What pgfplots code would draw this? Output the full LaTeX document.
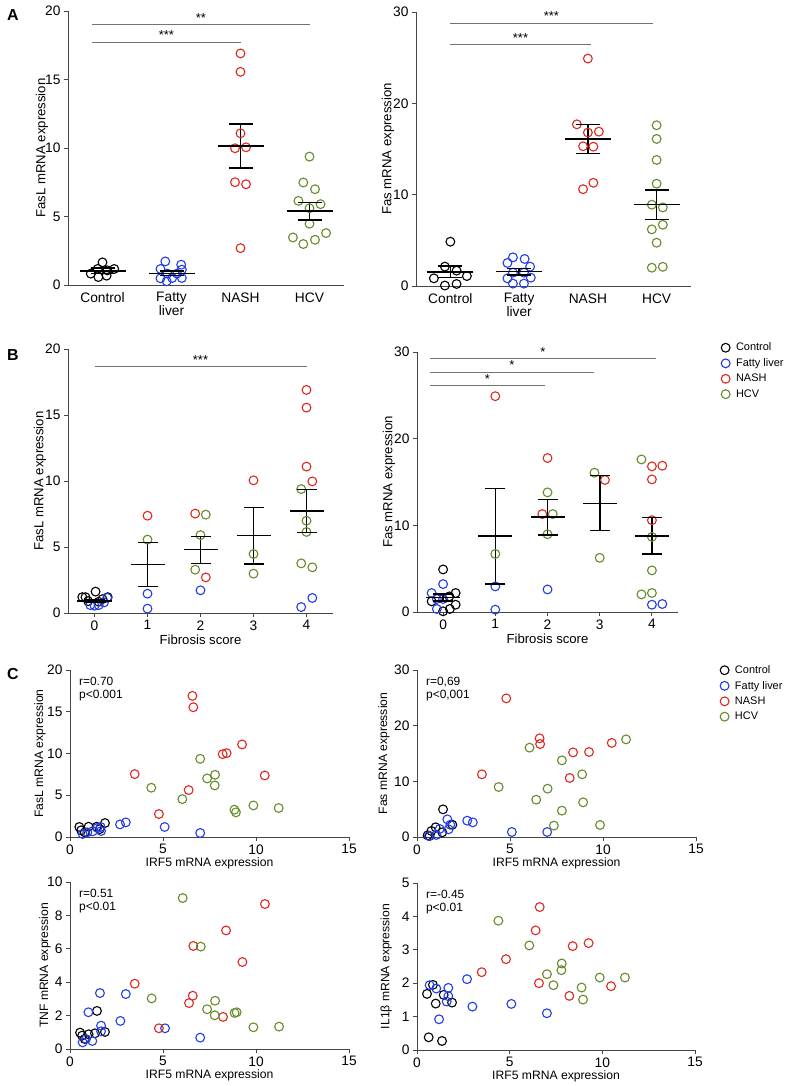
\documentclass[border=0pt]{standalone}
\usepackage{fontspec}
\setmainfont{Liberation Sans}
\usepackage{pgfplots}
\pgfplotsset{compat=1.18}
\definecolor{cblue}{RGB}{35,60,230}
\definecolor{cred}{RGB}{220,40,30}
\definecolor{cgreen}{RGB}{100,140,40}
\definecolor{axgray}{RGB}{70,70,70}
\tikzset{sig/.style={draw=black!55, line width=0.8bp}}
\pgfplotsset{
  prism/.style={scale only axis, anchor=south west,
    axis x line*=bottom, axis y line*=left,
    axis line style={line width=0.9bp, draw=axgray},
    every tick/.style={line width=0.9bp, axgray},
    tick align=outside, major tick length=4bp,
    tick label style={font=\fontsize{13.8}{14}\selectfont, black},
    /pgf/number format/assume math mode=true, clip=false,
    label style={font=\fontsize{13.2}{15}\selectfont}},
  clab/.style={label style={font=\fontsize{12.2}{14}\selectfont}},
  ylabx/.style={ylabel style={at={(axis description cs:#1,0.5)}, anchor=center}},
  xlaby/.style={xlabel style={at={(axis description cs:0.5,#1)}, anchor=center}},
  gC/.style={only marks, mark=o, black, mark size=4.4bp, mark options={line width=1.1bp}},
  gF/.style={only marks, mark=o, cblue, mark size=4.4bp, mark options={line width=1.1bp}},
  gN/.style={only marks, mark=o, cred, mark size=4.4bp, mark options={line width=1.1bp}},
  gH/.style={only marks, mark=o, cgreen, mark size=4.4bp, mark options={line width=1.1bp}},
  meanl/.style={only marks, mark=-, black, mark size=#1, mark options={line width=1.6bp}},
  semv/.style={black, line width=1.6bp, mark=none, unbounded coords=jump},
  legC/.style={legend style={draw=none, fill=none, inner sep=0pt, anchor=north west,
    font=\fontsize{11}{12}\selectfont, row sep=2.2bp, cells={anchor=west},
    /tikz/every odd column/.append style={column sep=4bp}}, legend cell align=left},
}
\newcommand{\sigt}[1]{node[midway, anchor=base, yshift=2bp, inner sep=0pt, font=\fontsize{13}{14}\selectfont, black]{#1}}
\begin{document}
\begin{tikzpicture}
\useasboundingbox (0,0) rectangle (786bp,1086bp);
\node[font=\bfseries\fontsize{16}{18}\selectfont] at (13bp,1071bp) {A};
\node[font=\bfseries\fontsize{16}{18}\selectfont] at (13bp,731bp) {B};
\node[font=\bfseries\fontsize{16}{18}\selectfont] at (13bp,412bp) {C};

% ---------- A left
\begin{axis}[prism, at={(68bp,801bp)}, width=276bp, height=274bp,
  xmin=-0.5, xmax=3.5, ymin=0, ymax=20, xtick={0,1,2,3},
  xticklabels={Control,{Fatty\\liver},NASH,HCV}, xticklabel style={align=center},
  xtick style={draw=none}, ytick={0,5,10,15,20},
  ylabel={FasL mRNA expression}, ylabx=-0.094]
\addplot[gC] coordinates {(0,1.65) (-0.17,0.83) (-0.06,0.58) (0.06,0.68) (-0.07,1.17) (0.17,1.17) (0.07,1.07)};
\addplot[gF] coordinates {(0.91,1.72) (0.84,1.17) (1.14,1.48) (1.15,1.12) (0.84,0.49) (0.93,0.27) (1.01,0.51) (1.15,0.51) (1.08,0.83) (0.94,0.83)};
\addplot[gN] coordinates {(2,16.9) (2,15.56) (2,11.07) (1.92,9.98) (2.08,10.05) (1.92,7.5) (2.08,7.35) (2,2.69)};
\addplot[gH] coordinates {(3,9.37) (2.91,7.48) (3.08,6.99) (2.84,6.14) (3.16,5.9) (3,5.6) (3,4.47) (2.76,3.47) (3.24,3.79) (2.91,2.99) (3.08,3.3)};
\addplot[meanl=23bp] coordinates {(0,1.02) (1,0.85) (2,10.15) (3,5.39)};
\addplot[meanl=12bp] coordinates {(0,0.85) (0,1.22) (1,0.7) (1,1.0) (2,8.52) (2,11.75) (3,4.76) (3,6.02)};
\addplot[semv] coordinates {(0,0.85) (0,1.22) (0,nan) (1,0.7) (1,1.0) (1,nan) (2,8.52) (2,11.75) (2,nan) (3,4.76) (3,6.02)};
\draw[sig] (axis cs:-0.15,19.05) -- (axis cs:3,19.05) \sigt{**};
\draw[sig] (axis cs:-0.15,17.74) -- (axis cs:2,17.74) \sigt{***};
\end{axis}

% ---------- A right
\begin{axis}[prism, at={(416bp,800bp)}, width=275bp, height=274bp,
  xmin=-0.5, xmax=3.5, ymin=0, ymax=30, xtick={0,1,2,3},
  xticklabels={Control,{Fatty\\liver},NASH,HCV}, xticklabel style={align=center},
  xtick style={draw=none}, ytick={0,10,20,30},
  ylabel={Fas mRNA expression}, ylabx=-0.102]
\addplot[gC] coordinates {(0,4.85) (-0.08,2.12) (0.09,1.68) (-0.24,0.84) (0.24,1.09) (-0.08,0.05) (0.09,0.22)};
\addplot[gF] coordinates {(0.91,3.14) (1.08,2.96) (0.83,2.52) (1.16,2.12) (0.91,1.46) (1.07,1.46) (0.83,0.84) (1.17,0.91) (0.91,0.26) (1.07,0.26)};
\addplot[gN] coordinates {(2,24.9) (1.84,17.7) (2,16.8) (2.16,16.9) (1.93,15.3) (2.08,15.25) (1.93,10.6) (2.08,11.3)};
\addplot[gH] coordinates {(3,17.6) (3,16.1) (3,13.8) (3,11.2) (2.93,8.9) (3.09,8.6) (2.93,6.2) (3.09,6.7) (3,4.74) (2.93,2.0) (3.09,2.1)};
\addplot[meanl=23bp] coordinates {(0,1.53) (1,1.57) (2,16.1) (3,8.94)};
\addplot[meanl=12bp] coordinates {(0,0.95) (0,2.19) (1,1.2) (1,1.93) (2,14.5) (2,17.7) (3,7.3) (3,10.5)};
\addplot[semv] coordinates {(0,0.95) (0,2.19) (0,nan) (1,1.2) (1,1.93) (1,nan) (2,14.5) (2,17.7) (2,nan) (3,7.3) (3,10.5)};
\draw[sig] (axis cs:0,28.8) -- (axis cs:2.94,28.8) \sigt{***};
\draw[sig] (axis cs:0,26.4) -- (axis cs:2.04,26.4) \sigt{***};
\end{axis}

% ---------- B left
\begin{axis}[prism, at={(68bp,473bp)}, width=265bp, height=264bp,
  xmin=-0.5, xmax=4.5, ymin=0, ymax=20, xtick={0,1,2,3,4}, ytick={0,5,10,15,20},
  ylabel={FasL mRNA expression}, ylabx=-0.106,
  xlabel={Fibrosis score}, xlaby=-0.102]
\addplot[gC] coordinates {(-0.23,1.2) (-0.17,1.2) (0.02,1.62) (0.25,1.2) (-0.12,0.9) (0.08,0.85) (0.15,1.05)};
\addplot[gF] coordinates {(-0.08,0.6) (0,0.55) (0.08,0.6) (0.18,0.8) (0.24,1.15) (1,1.46) (1,0.33) (2,1.72) (3.9,0.45) (4.11,1.14)};
\addplot[gN] coordinates {(1,7.37) (1.9,7.53) (2.1,2.7) (3,10.05) (4,16.9) (4,15.56) (4,11.09) (4.11,9.97)};
\addplot[gH] coordinates {(1,5.56) (2.1,7.45) (2,5.9) (1.9,3.28) (3,4.47) (3,2.98) (3.9,9.39) (4,6.99) (4,6.14) (3.9,3.76) (4.11,3.46)};
\addplot[meanl=17bp] coordinates {(0,0.9) (1,3.66) (2,4.8) (3,5.86) (4,7.73)};
\addplot[meanl=10bp] coordinates {(0,0.78) (0,1.02) (1,2.02) (1,5.35) (2,3.74) (2,5.8) (3,3.71) (3,8.0) (4,6.11) (4,9.37)};
\addplot[semv] coordinates {(0,0.78) (0,1.02) (0,nan) (1,2.02) (1,5.35) (1,nan) (2,3.74) (2,5.8) (2,nan) (3,3.71) (3,8.0) (3,nan) (4,6.11) (4,9.37)};
\draw[sig] (axis cs:0,18.7) -- (axis cs:4,18.7) \sigt{***};
\end{axis}

% ---------- B right
\begin{axis}[prism, legC, at={(417bp,474bp)}, width=261bp, height=260bp,
  xmin=-0.5, xmax=4.5, ymin=0, ymax=30, xtick={0,1,2,3,4}, ytick={0,10,20,30},
  ylabel={Fas mRNA expression}, ylabx=-0.107,
  xlabel={Fibrosis score}, xlaby=-0.104,
  legend style={at={(axis description cs:1.165,1.043)}}]
\addplot[gC] coordinates {(0,4.91) (0.24,2.19) (-0.22,1.23) (0.12,1.8) (0,0.08) (0.13,0.35) (0.24,0.84)};
\addlegendentry{Control}
\addplot[gF] coordinates {(0,3.22) (-0.22,2.19) (-0.12,1.5) (0,1.5) (-0.12,0.35) (1,2.95) (1,0.27) (2,2.6) (4,0.84) (4.2,0.92)};
\addlegendentry{Fatty liver}
\addplot[gN] coordinates {(1,24.9) (2,17.76) (1.9,11.3) (3.1,15.23) (4,16.8) (4.2,16.88) (4,15.3) (4,10.59)};
\addlegendentry{NASH}
\addplot[gH] coordinates {(1,6.7) (2,13.8) (2.1,11.3) (2,8.97) (2.9,16.07) (3,6.25) (3.8,17.6) (4,8.67) (4,4.8) (3.8,2.03) (4,2.19)};
\addlegendentry{HCV}
\addplot[meanl=17bp] coordinates {(0,1.69) (1,8.75) (2,10.93) (3,12.54) (4,8.78)};
\addplot[meanl=10bp] coordinates {(0,1.3) (0,2.07) (1,3.22) (1,14.27) (2,8.9) (2,13.0) (3,9.4) (3,15.73) (4,6.67) (4,10.9)};
\addplot[semv] coordinates {(0,1.3) (0,2.07) (0,nan) (1,3.22) (1,14.27) (1,nan) (2,8.9) (2,13.0) (2,nan) (3,9.4) (3,15.73) (3,nan) (4,6.67) (4,10.9)};
\draw[sig] (axis cs:-0.25,29.3) -- (axis cs:4.07,29.3) \sigt{*};
\draw[sig] (axis cs:-0.25,27.7) -- (axis cs:2.89,27.7) \sigt{*};
\draw[sig] (axis cs:-0.25,26.1) -- (axis cs:1.95,26.1) \sigt{*};
\end{axis}

% ---------- C top left
\begin{axis}[prism, clab, at={(70bp,249bp)}, width=279bp, height=167bp,
  xmin=0, xmax=15, ymin=0, ymax=20, xtick={0,5,10,15}, ytick={0,5,10,15,20},
  ylabel={FasL mRNA expression}, ylabx=-0.1075,
  xlabel={IRF5 mRNA expression}, xlaby=-0.156]
\addplot[gC] coordinates {(0.5,1.2) (0.6,0.8) (1.0,1.23) (1.43,1.23) (1.88,1.67) (0.8,0.55) (1.6,0.95)};
\addplot[gF] coordinates {(0.68,0.36) (0.93,0.56) (1.22,0.68) (1.47,1.08) (1.65,1.2) (1.67,0.72) (2.69,1.51) (3.0,1.75) (5.09,1.2) (7.0,0.48)};
\addplot[gN] coordinates {(3.48,7.53) (4.78,2.75) (6.38,5.62) (6.58,16.9) (6.63,15.54) (8.21,9.92) (8.42,10.04) (9.25,11.08) (10.47,7.37)};
\addplot[gH] coordinates {(4.37,5.9) (6.04,4.54) (7.0,9.36) (7.37,7.01) (7.8,7.45) (7.78,6.18) (8.84,3.27) (8.92,2.95) (9.86,3.78) (11.22,3.47)};
\node[anchor=north west, align=left, inner sep=0pt, font=\fontsize{12}{13.7}\selectfont] at (rel axis cs:0.032,0.96) {r=0.70\\p<0.001};
\end{axis}

% ---------- C top right
\begin{axis}[prism, clab, legC, at={(417bp,249bp)}, width=279bp, height=167bp,
  xmin=0, xmax=15, ymin=0, ymax=30, xtick={0,5,10,15}, ytick={0,10,20,30},
  ylabel={Fas mRNA expression}, ylabx=-0.118,
  xlabel={IRF5 mRNA expression}, xlaby=-0.156,
  legend style={at={(axis description cs:1.086,1.04)}}]
\addplot[gC] coordinates {(1.4,4.97) (1.0,1.74) (0.77,1.08) (0.57,0.3) (0.68,0.18) (1.36,0.84) (1.9,2.2)};
\addlegendentry{Control}
\addplot[gF] coordinates {(0.64,0.18) (1.04,0.36) (1.22,1.44) (1.63,3.17) (1.7,1.38) (1.79,2.2) (2.7,2.93) (3.0,2.63) (5.1,0.9) (7.0,0.9)};
\addlegendentry{Fatty liver}
\addplot[gN] coordinates {(4.8,24.9) (3.49,11.26) (6.59,17.72) (6.62,16.7) (8.39,15.2) (9.25,15.27) (10.47,16.9) (8.21,10.6)};
\addlegendentry{NASH}
\addplot[gH] coordinates {(4.39,8.98) (6.05,16.05) (6.41,6.7) (7.02,8.68) (7.79,13.77) (7.79,4.73) (7.36,2.04) (8.88,11.26) (8.93,6.23) (9.84,2.16) (11.24,17.54)};
\addlegendentry{HCV}
\node[anchor=north west, align=left, inner sep=0pt, font=\fontsize{12}{13.7}\selectfont] at (rel axis cs:0.032,0.96) {r=0,69\\p<0,001};
\end{axis}

% ---------- C bottom left
\begin{axis}[prism, clab, at={(70bp,37bp)}, width=279bp, height=167bp,
  xmin=0, xmax=15, ymin=0, ymax=10, xtick={0,5,10,15}, ytick={0,2,4,6,8,10},
  ylabel={TNF mRNA expression}, ylabx=-0.09,
  xlabel={IRF5 mRNA expression}, xlaby=-0.156]
\addplot[gC] coordinates {(0.54,0.98) (0.65,0.8) (1.0,0.88) (1.34,0.94) (1.45,2.28) (1.88,1.02) (0.79,0.6)};
\addplot[gF] coordinates {(0.68,0.4) (0.99,2.2) (1.2,0.48) (1.61,3.35) (1.67,1.4) (1.67,1.06) (2.71,1.68) (3.0,3.29) (5.11,1.24) (7.0,0.68) (0.86,0.6)};
\addplot[gN] coordinates {(3.48,3.91) (4.78,1.24) (6.4,2.75) (6.6,3.19) (6.63,6.17) (8.23,1.92) (8.39,7.1) (9.27,5.21) (10.48,8.68)};
\addplot[gH] coordinates {(4.39,3.03) (6.06,9.04) (7.03,6.13) (7.37,2.38) (7.8,2.89) (7.78,2.02) (8.85,2.16) (8.96,2.2) (9.86,1.3) (11.24,1.34)};
\node[anchor=north west, align=left, inner sep=0pt, font=\fontsize{12}{13.7}\selectfont] at (rel axis cs:0.032,0.96) {r=0.51\\p<0.01};
\end{axis}

% ---------- C bottom right
\begin{axis}[prism, clab, at={(417bp,36bp)}, width=278bp, height=167bp,
  xmin=0, xmax=15, ymin=0, ymax=5, xtick={0,5,10,15}, ytick={0,1,2,3,4,5},
  ylabel={IL1β mRNA expression}, ylabx=-0.111,
  xlabel={IRF5 mRNA expression}, xlaby=-0.156]
\addplot[gC] coordinates {(0.54,1.68) (0.63,0.38) (0.86,1.95) (1.01,1.39) (1.35,0.27) (1.44,1.65) (1.89,1.42)};
\addplot[gF] coordinates {(0.68,1.94) (1.04,1.84) (1.19,0.92) (1.69,1.86) (1.69,1.61) (1.6,1.45) (2.7,2.12) (2.99,1.3) (5.09,1.38) (7.01,1.1)};
\addplot[gN] coordinates {(3.49,2.33) (4.8,2.72) (6.4,3.58) (6.62,4.28) (6.58,2.0) (8.22,1.62) (8.4,3.11) (9.26,3.2) (10.47,1.91)};
\addplot[gH] coordinates {(4.39,3.87) (6.06,3.13) (7.01,2.27) (7.36,1.94) (7.81,2.59) (7.79,2.39) (8.88,1.87) (8.96,1.51) (9.86,2.17) (11.22,2.17)};
\node[anchor=north west, align=left, inner sep=0pt, font=\fontsize{12}{13.7}\selectfont] at (rel axis cs:0.032,0.96) {r=-0.45\\p<0.01};
\end{axis}
\end{tikzpicture}
\end{document}
